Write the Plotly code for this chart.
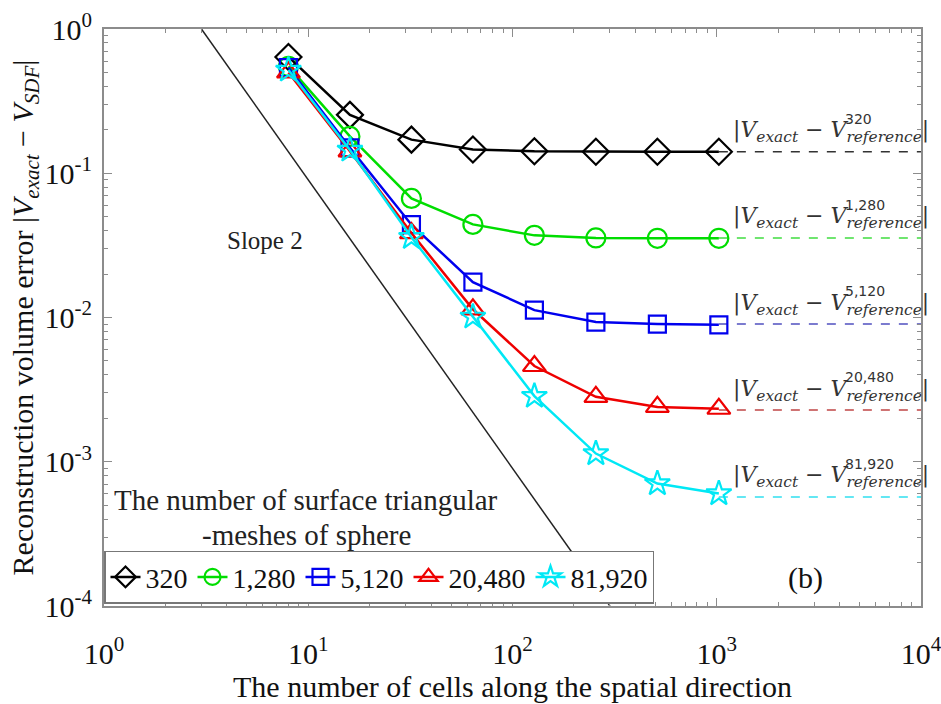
import numpy as np
import plotly.graph_objects as go

# ---------------- data ----------------
cells = [8, 16, 32, 64, 128, 256, 512, 1024]
series_names = ["320", "1,280", "5,120", "20,480", "81,920"]
err_320 = [0.64, 0.254, 0.171, 0.146, 0.142, 0.141, 0.141, 0.141]
err_1280 = [0.55, 0.180, 0.0669, 0.0442, 0.0371, 0.0356, 0.0354, 0.0354]
err_5120 = [0.54, 0.150, 0.0440, 0.0176, 0.01125, 0.0093, 0.0090, 0.0089]
err_20480 = [0.50, 0.142, 0.0385, 0.0114, 0.00461, 0.00282, 0.00240, 0.00233]
err_81920 = [0.52, 0.145, 0.0360, 0.0101, 0.00285, 0.00114, 0.000706, 0.000602]
ref_values = [0.141, 0.0356, 0.0090, 0.00228, 0.000570]
ref_x = [1024, 10000]
slope_x = [3, 300]
slope_y = [1.0, 1e-4]
x_tick_vals = [1, 10, 100, 1000, 10000]
x_tick_text = ["10<sup>0</sup>", "10<sup>1</sup>", "10<sup>2</sup>", "10<sup>3</sup>", "10<sup>4</sup>"]
y_tick_vals = [1, 0.1, 0.01, 0.001, 0.0001]
y_tick_text = ["10<sup>0</sup>", "10<sup>-1</sup>", "10<sup>-2</sup>", "10<sup>-3</sup>", "10<sup>-4</sup>"]

series = [err_320, err_1280, err_5120, err_20480, err_81920]
colors = ["#000000", "#00dd00", "#0000ee", "#ee0000", "#00e8f5"]
dash_colors = ["#333333", "#40dd40", "#5050c0", "#c04545", "#30e0f0"]
symbols = ["diamond-open", "circle-open", "square-open", "triangle-up-open", "star-open"]
msizes = [20, 19, 17, 20, 19]

SERIF = "Liberation Serif"

fig = go.Figure()

# slope-2 reference line
fig.add_trace(go.Scatter(x=slope_x, y=slope_y, mode="lines",
                         line=dict(color="#222222", width=1.5),
                         showlegend=False, hoverinfo="skip"))

# dashed reference levels
for rv, dc in zip(ref_values, dash_colors):
    fig.add_trace(go.Scatter(x=ref_x, y=[rv, rv], mode="lines",
                             line=dict(color=dc, width=1.5, dash="dash"),
                             showlegend=False, hoverinfo="skip"))

# data series
for name, ys, c, s, ms in zip(series_names, series, colors, symbols, msizes):
    fig.add_trace(go.Scatter(x=cells, y=ys, mode="lines+markers", name=name,
                             line=dict(color=c, width=2.5),
                             marker=dict(symbol=s, size=ms, color=c,
                                         line=dict(color=c, width=2.2))))

# minor tick positions
minor_x = [k * 10 ** d for d in range(0, 4) for k in range(2, 10)]
minor_y = [k * 10.0 ** d for d in range(-4, 0) for k in range(2, 10)]

axis_common = dict(showgrid=False, zeroline=False, showline=True,
                   linecolor="#8c8c8c", linewidth=2, mirror="allticks",
                   ticks="inside", ticklen=8, tickwidth=1, tickcolor="#8c8c8c",
                   automargin=False, ticklabeloverflow="allow")

fig.update_xaxes(type="log", range=[0, 4], tickmode="array",
                 tickvals=x_tick_vals, ticktext=x_tick_text,
                 tickfont=dict(family=SERIF, size=30, color="#111111"),
                 ticklabelstandoff=20,
                 minor=dict(tickmode="array", tickvals=minor_x, ticks="inside",
                            ticklen=4, tickcolor="#8c8c8c", showgrid=False),
                 title=dict(text="The number of cells along the spatial direction",
                            font=dict(family=SERIF, size=30, color="#111111"),
                            standoff=0),
                 **axis_common)
fig.update_yaxes(type="log", range=[-4, 0], tickmode="array",
                 tickvals=y_tick_vals, ticktext=y_tick_text,
                 tickfont=dict(family=SERIF, size=30, color="#111111"),
                 ticklabelstandoff=4,
                 minor=dict(tickmode="array", tickvals=minor_y, ticks="inside",
                            ticklen=4, tickcolor="#8c8c8c", showgrid=False),
                 title=dict(text="Reconstruction volume error |<i>V</i><sub><i>exact</i></sub> − <i>V</i><sub><i>SDF</i></sub>|",
                            font=dict(family=SERIF, size=30, color="#111111"),
                            standoff=0),
                 **axis_common)

annotations = []
for name, rv in zip(series_names, ref_values):
    annotations.append(dict(
        x=np.log10(ref_x[0]), y=np.log10(rv), xref="x", yref="y",
        text="|<i>V</i><sub><i>exact</i></sub> − <i>V</i><sub><i>reference</i></sub>|",
        showarrow=False, xanchor="left", yanchor="middle", xshift=12, yshift=20,
        font=dict(family="DejaVu Serif", size=22, color="#333333")))
    annotations.append(dict(
        x=np.log10(ref_x[0]), y=np.log10(rv), xref="x", yref="y",
        text=name, showarrow=False, xanchor="left", yanchor="middle",
        xshift=124, yshift=33,
        font=dict(family="DejaVu Sans", size=14, color="#333333")))

annotations += [
    dict(x=265, y=240, text="Slope 2", showarrow=False,
         font=dict(family=SERIF, size=25, color="#222222")),
    dict(x=805, y=578, text="(b)", showarrow=False,
         font=dict(family=SERIF, size=30, color="#111111")),
    dict(x=306, y=500, text="The number of surface triangular", showarrow=False,
         font=dict(family=SERIF, size=29, color="#222222")),
    dict(x=306, y=535, text="-meshes of sphere", showarrow=False,
         font=dict(family=SERIF, size=29, color="#222222")),
]

# convert pixel-positioned annotations to paper coords
L, R, T, B = 104, 921, 29, 606
for a in annotations:
    if a.get("xref") != "x":
        px, py = a["x"], a["y"]
        a["x"] = (px - L) / (R - L)
        a["y"] = (B - py) / (B - T)
        a["xref"] = "paper"
        a["yref"] = "paper"
        a["xanchor"] = "center"
        a["yanchor"] = "middle"

fig.update_layout(
    width=941, height=704,
    margin=dict(l=L, r=941 - R, t=T, b=704 - B),
    paper_bgcolor="white", plot_bgcolor="white",
    annotations=annotations,
    showlegend=True,
    legend=dict(orientation="h", x=0.0, y=0.004, xanchor="left", yanchor="bottom",
                bgcolor="white", bordercolor="#777777", borderwidth=1.5,
                font=dict(family=SERIF, size=28, color="#111111"),
                itemwidth=30, tracegroupgap=0, traceorder="normal"),
)

fig.write_html("out.html")
